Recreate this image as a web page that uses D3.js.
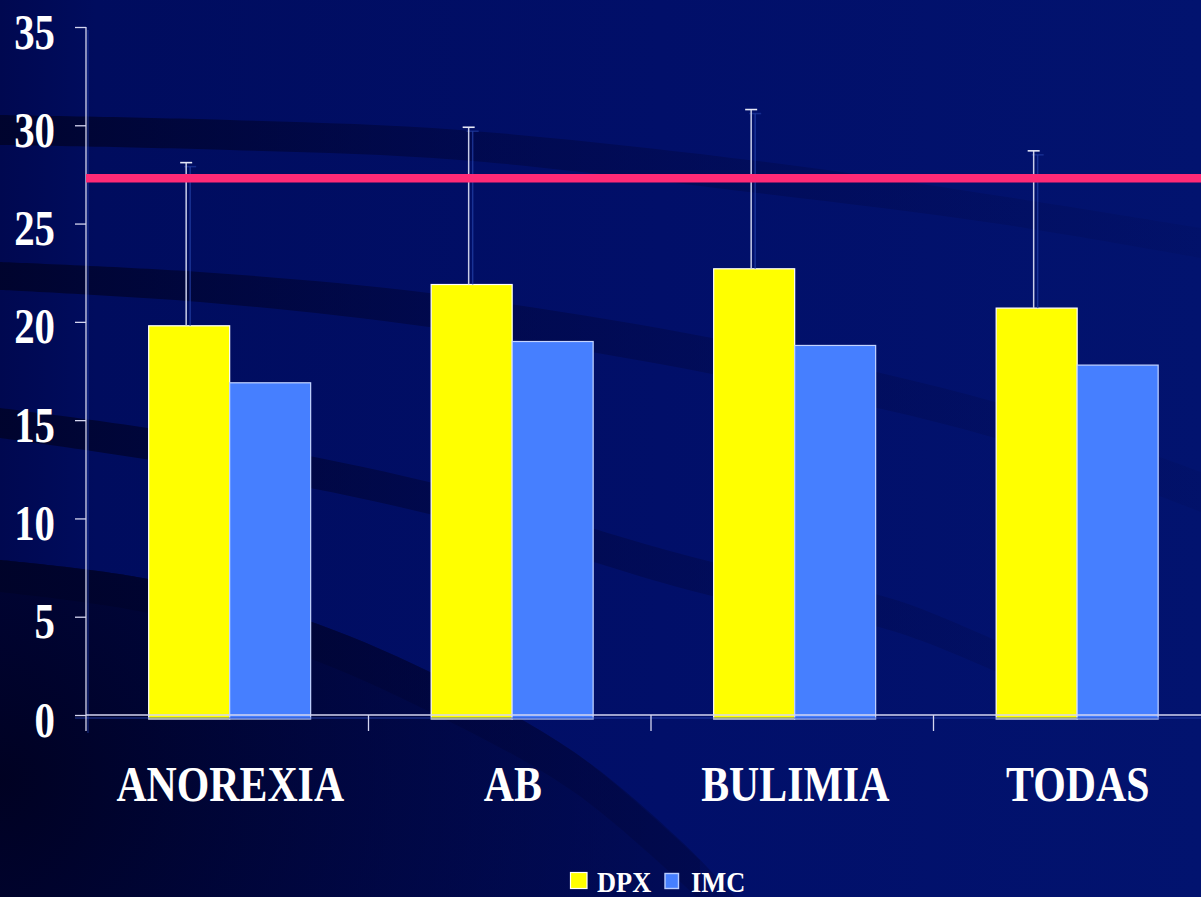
<!DOCTYPE html>
<html>
<head>
<meta charset="utf-8">
<script src="https://cdn.jsdelivr.net/npm/d3@7"></script>
<style>
  html, body { margin: 0; padding: 0; background: #000c5e; }
  svg { display: block; }
  text { font-family: "Liberation Serif", "Times New Roman", serif; font-weight: bold; fill: #ffffff; }
</style>
</head>
<body>
<svg id="chart" width="1201" height="897"></svg>
<script>
// ---- data ----
const categories = ["ANOREXIA", "AB", "BULIMIA", "TODAS"];
const series = ["DPX", "IMC"];
const dpxValues = [19.8, 21.9, 22.7, 20.7];
const imcValues = [16.9, 19.0, 18.8, 17.8];
const dpxSD = [8.3, 8.0, 8.1, 8.0];
const referenceValue = 27.3;
const yTickValues = [0, 5, 10, 15, 20, 25, 30, 35];

const seriesValues = { DPX: dpxValues, IMC: imcValues };
const seriesColors = { DPX: "#ffff00", IMC: "#467fff" };
const seriesStroke = { DPX: "#ffffff", IMC: "#c4d4ff" };

const W = 1201, H = 897;
const svg = d3.select("#chart");
const defs = svg.append("defs");

// ---- background: navy slide with dark sweeping bands ----
const bgGrad = defs.append("linearGradient").attr("id", "bg").attr("x1", 0).attr("x2", 1).attr("y1", 0).attr("y2", 0);
bgGrad.append("stop").attr("offset", "0%").attr("stop-color", "#000850");
bgGrad.append("stop").attr("offset", "8%").attr("stop-color", "#000c5e");
bgGrad.append("stop").attr("offset", "55%").attr("stop-color", "#010f69");
bgGrad.append("stop").attr("offset", "100%").attr("stop-color", "#02136f");
svg.append("rect").attr("width", W).attr("height", H).attr("fill", "url(#bg)");

const bandGrad = defs.append("linearGradient").attr("id", "bandFade").attr("gradientUnits", "userSpaceOnUse")
  .attr("x1", 0).attr("x2", W).attr("y1", 0).attr("y2", 0);
bandGrad.append("stop").attr("offset", "0%").attr("stop-color", "#000328").attr("stop-opacity", 0.85);
bandGrad.append("stop").attr("offset", "40%").attr("stop-color", "#00053a").attr("stop-opacity", 0.5);
bandGrad.append("stop").attr("offset", "75%").attr("stop-color", "#000845").attr("stop-opacity", 0.3);
bandGrad.append("stop").attr("offset", "100%").attr("stop-color", "#000845").attr("stop-opacity", 0.12);

const cornerGrad = defs.append("radialGradient").attr("id", "cornerFade").attr("gradientUnits", "userSpaceOnUse")
  .attr("cx", 0).attr("cy", 780).attr("r", 740);
cornerGrad.append("stop").attr("offset", "0%").attr("stop-color", "#000120").attr("stop-opacity", 0.95);
cornerGrad.append("stop").attr("offset", "55%").attr("stop-color", "#000435").attr("stop-opacity", 0.65);
cornerGrad.append("stop").attr("offset", "100%").attr("stop-color", "#00063f").attr("stop-opacity", 0.35);

const bandArea = d3.area().x(d => d[0]).y0(d => d[1]).y1(d => d[2]).curve(d3.curveCatmullRom);
const bg = svg.append("g");

// lower-left dark sweep
const cornerEdge = [[0, 560], [143, 578], [300, 618], [430, 672], [574, 752], [680, 840], [735, 897]];
bg.append("path")
  .attr("d", d3.line().curve(d3.curveCatmullRom)(cornerEdge) + `L0,${H}Z`)
  .attr("fill", "url(#cornerFade)");

const bands = [
  [[0, 115, 145], [230, 120, 150], [460, 130, 160], [766, 162, 194], [1000, 196, 224], [1201, 228, 258]],
  [[0, 262, 290], [200, 272, 302], [429, 293, 327], [712, 338, 374], [995, 402, 438], [1201, 472, 512]],
  [[0, 408, 438], [200, 436, 468], [429, 482, 514], [712, 562, 596], [896, 600, 632], [1100, 690, 720]],
  [[0, 560, 592], [143, 578, 612], [300, 618, 655], [430, 672, 712], [574, 752, 792], [700, 860, 900]]
];
bands.forEach(b => {
  bg.append("path").attr("d", bandArea(b)).attr("fill", "url(#bandFade)");
});

// ---- scales ----
const x0 = d3.scaleBand().domain(categories).range([86, 1216]).paddingInner(0).paddingOuter(0);
const x1 = d3.scaleBand().domain(series).range([0, x0.bandwidth()]).paddingInner(0).paddingOuter(0.744).align(0.52);
const y = d3.scaleLinear().domain([0, 35]).range([715, 27]);

const rows = categories.map((c, i) => ({ category: c, i }));

// ---- bars ----
const groups = svg.append("g").selectAll("g").data(rows).join("g")
  .attr("transform", d => `translate(${x0(d.category)},0)`);

groups.selectAll("rect").data(d => series.map(s => ({ s, v: seriesValues[s][d.i] }))).join("rect")
  .attr("x", d => x1(d.s))
  .attr("y", d => y(d.v))
  .attr("width", x1.bandwidth())
  .attr("height", d => y(0) - y(d.v) + 4)
  .attr("fill", d => seriesColors[d.s])
  .attr("stroke", d => seriesStroke[d.s])
  .attr("stroke-width", 1.2);

// ---- error bars (upper, on DPX) ----
const errG = svg.append("g");
rows.forEach(d => {
  const cx = x0(d.category) + x1("DPX") + x1.bandwidth() / 2 - 3;
  const top = y(dpxValues[d.i] + dpxSD[d.i]);
  const base = y(dpxValues[d.i]);
  // soft shadow line
  errG.append("line").attr("x1", cx + 4).attr("x2", cx + 4).attr("y1", top + 4).attr("y2", base)
    .attr("stroke", "#2440a8").attr("stroke-width", 1.5).attr("opacity", 0.7);
  errG.append("line").attr("x1", cx - 2).attr("x2", cx + 10).attr("y1", top + 4).attr("y2", top + 4)
    .attr("stroke", "#2440a8").attr("stroke-width", 1.5).attr("opacity", 0.6);
  errG.append("line").attr("x1", cx).attr("x2", cx).attr("y1", top).attr("y2", base)
    .attr("stroke", "#c9cde8").attr("stroke-width", 1.5);
  errG.append("line").attr("x1", cx - 6).attr("x2", cx + 6).attr("y1", top).attr("y2", top)
    .attr("stroke", "#e6e8f6").attr("stroke-width", 1.6);
});

// ---- axes ----
const axisColor = "#d4d6f0";

// shadow for the axes
svg.append("line").attr("x1", 88).attr("x2", 88).attr("y1", 30).attr("y2", 733)
  .attr("stroke", "#1f3aa0").attr("stroke-width", 1.2).attr("opacity", 0.7);
svg.append("line").attr("x1", 75).attr("x2", W).attr("y1", y(0) + 3).attr("y2", y(0) + 3)
  .attr("stroke", "#2a48b8").attr("stroke-width", 1.2).attr("opacity", 0.8);

const yAxis = svg.append("g").attr("transform", "translate(86,0)")
  .call(d3.axisLeft(y).tickValues(yTickValues).tickSize(11).tickSizeOuter(0).tickFormat(d3.format("d")));
yAxis.select(".domain").remove();
yAxis.selectAll(".tick line").attr("stroke", axisColor).attr("stroke-width", 1.3);
yAxis.selectAll(".tick text")
  .attr("font-size", 51)
  .attr("fill", "#ffffff")
  .attr("text-anchor", "end")
  .attr("dy", 0)
  .attr("y", 21)
  .attr("x", -31 / 0.8)
  .attr("transform", "scale(0.8,1)");

// vertical axis line, running down through the category tick row
svg.append("line").attr("x1", 86).attr("x2", 86).attr("y1", y(35)).attr("y2", y(0) + 16)
  .attr("stroke", axisColor).attr("stroke-width", 1.3);
// horizontal axis line
svg.append("line").attr("x1", 86).attr("x2", W).attr("y1", y(0)).attr("y2", y(0))
  .attr("stroke", axisColor).attr("stroke-width", 1.6);

// category boundary ticks
svg.append("g").selectAll("line").data(categories.slice(1)).join("line")
  .attr("x1", d => x0(d)).attr("x2", d => x0(d))
  .attr("y1", y(0)).attr("y2", y(0) + 16)
  .attr("stroke", axisColor).attr("stroke-width", 1.3);

// category labels
svg.append("g").selectAll("text").data(categories).join("text")
  .attr("transform", d => `translate(${x0(d) + x0.bandwidth() / 2 + 3},801) scale(0.82,1)`)
  .attr("text-anchor", "middle")
  .attr("font-size", 51)
  .text(d => d);

// ---- reference line ----
svg.append("line").attr("x1", 86).attr("x2", W)
  .attr("y1", y(referenceValue)).attr("y2", y(referenceValue))
  .attr("stroke", "#ff2a76").attr("stroke-width", 8.5);

// ---- legend ----
const legend = svg.append("g");
legend.append("rect").attr("x", 570.5).attr("y", 872.5).attr("width", 16.5).attr("height", 16)
  .attr("fill", seriesColors.DPX).attr("stroke", "#ffffff").attr("stroke-width", 1.2);
legend.append("text").attr("transform", "translate(597,892) scale(0.88,1)").attr("font-size", 30).text(series[0]);
legend.append("rect").attr("x", 665).attr("y", 873.5).attr("width", 13.5).attr("height", 15)
  .attr("fill", seriesColors.IMC).attr("stroke", "#b8ccff").attr("stroke-width", 1.4);
legend.append("text").attr("transform", "translate(691,892) scale(0.88,1)").attr("font-size", 30).text(series[1]);
</script>
</body>
</html>
